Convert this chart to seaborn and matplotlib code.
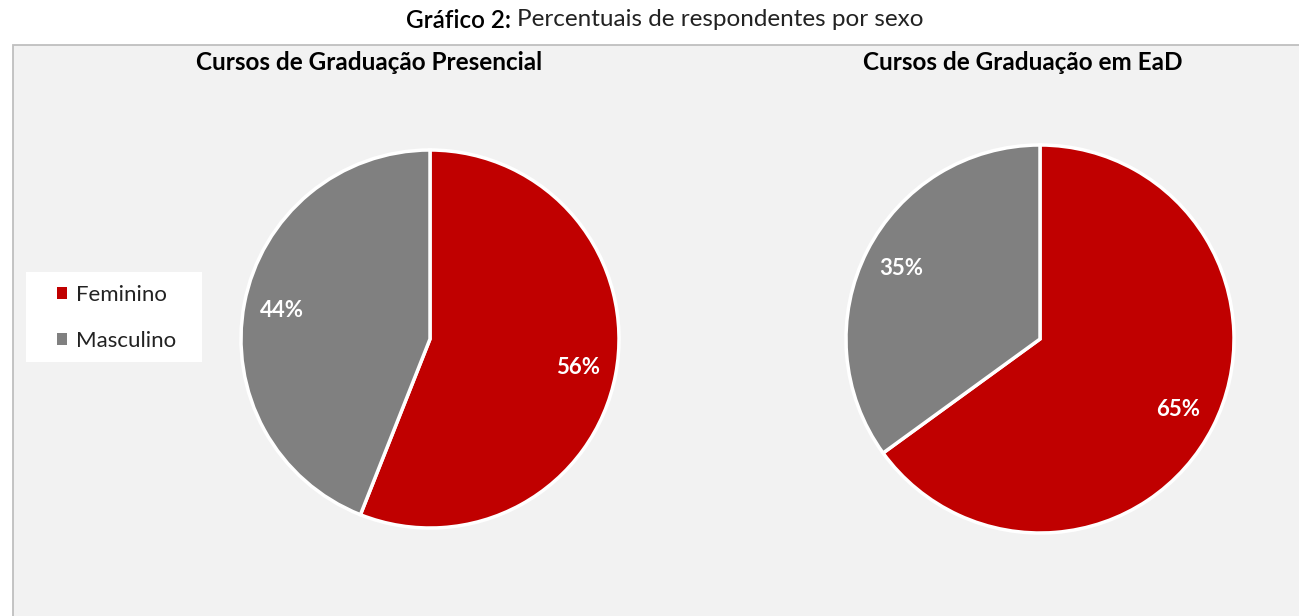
import matplotlib.pyplot as plt
import seaborn as sns
from matplotlib.patches import Rectangle

# Dados
categorias = ["Feminino", "Masculino"]
presencial = [56, 44]
ead = [65, 35]
titulos = ["Cursos de Graduação Presencial", "Cursos de Graduação em EaD"]
cores = ["#c00000", "#808080"]

sns.set_theme(style="white")
plt.rcParams["font.family"] = ["Lato", "DejaVu Sans"]

W, H = 1299, 616
fig = plt.figure(figsize=(W / 100, H / 100), dpi=100)
fig.patch.set_facecolor("white")


def px(x, y):
    """Converte pixel (origem no topo) para coordenadas da figura."""
    return x / W, 1 - y / H


# Painel cinza
fig.patches.append(Rectangle((12.5 / W, -0.01), 1.0, 1.01 - 45 / H,
                             transform=fig.transFigure, facecolor="#f2f2f2",
                             edgecolor="#bfbfbf", linewidth=1.3, zorder=-2))

# Título geral
fig.text(*px(511, 20), "Gráfico 2:", ha="right", va="center",
         fontsize=17.5, fontweight="semibold", color="black")
fig.text(*px(517, 20), "Percentuais de respondentes por sexo", ha="left",
         va="center", fontsize=17.5, color="#222222")


def desenhar_pizza(cx, cy, r, valores, titulo, tx):
    ax = fig.add_axes([(cx - r) / W, (H - cy - r) / H, 2 * r / W, 2 * r / H])
    ax.set_zorder(3)
    ax.patch.set_alpha(0)
    wedges, _, autotexts = ax.pie(
        valores, colors=cores, startangle=90, counterclock=False,
        radius=1, autopct="%d%%", pctdistance=0.8,
        wedgeprops={"edgecolor": "white", "linewidth": 2.5, "clip_on": False},
        textprops={"color": "white", "fontsize": 16, "fontweight": "bold"},
    )
    ax.set_xlim(-1, 1)
    ax.set_ylim(-1, 1)
    ax.set_aspect("equal")
    ax.axis("off")
    fig.text(*px(tx, 63), titulo, ha="center", va="center",
             fontsize=17.5, fontweight="bold", color="black")
    return wedges


wedges = desenhar_pizza(430, 339, 189, presencial, titulos[0], 369)
desenhar_pizza(1040, 339, 194, ead, titulos[1], 1023)

# Legenda
fig.patches.append(Rectangle(px(26, 362), 176 / W, 90 / H,
                             transform=fig.transFigure, facecolor="white",
                             edgecolor="none", zorder=-1))
leg = fig.legend(wedges, categorias, loc="center left",
                 bbox_to_anchor=px(57, 318), frameon=False, fontsize=16,
                 handlelength=0.45, handleheight=0.45, handletextpad=0.4,
                 labelspacing=1.15, borderpad=0, borderaxespad=0)
leg.set_zorder(5)
for h in leg.legend_handles:
    h.set_edgecolor("none")
for t in leg.get_texts():
    t.set_color("#222222")

fig.savefig("out.png", dpi=100)
